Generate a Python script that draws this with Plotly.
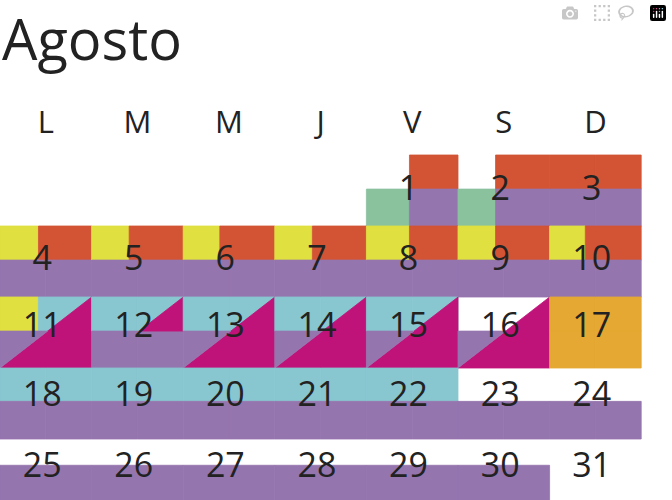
import plotly.graph_objects as go

# ---- data ----
title = "Agosto"
weekday_labels = ["L", "M", "M", "J", "V", "S", "D"]
days = list(range(1, 32))
first_weekday = 4  # August 1st is a Friday (V)

RED, PURPLE, GREEN = "#D35435", "#9575AE", "#8AC29E"
YELLOW, CYAN, MAGENTA = "#E0E040", "#88C6D0", "#C0137A"
ORANGE, WHITE = "#E5A832", "#FFFFFF"

top_left = ([WHITE, WHITE, RED] + [YELLOW] * 7 + [YELLOW] + [CYAN] * 4 + [WHITE, ORANGE]
            + [CYAN] * 5 + [WHITE] * 9)
top_right = ([RED] * 10 + [CYAN] * 5 + [WHITE, ORANGE] + [CYAN] * 5 + [WHITE] * 9)
bottom_left = [GREEN, GREEN] + [PURPLE] * 14 + [ORANGE] + [PURPLE] * 13 + [WHITE]
bottom_right = [PURPLE] * 16 + [ORANGE] + [PURPLE] * 13 + [WHITE]
split = {1: 0.47, 2: 0.41, 4: 0.42, 5: 0.41, 6: 0.40, 7: 0.41, 8: 0.47, 9: 0.41, 10: 0.39, 11: 0.42}
triangle_full = [11, 13, 14, 15, 16]
triangle_top = [12]
week_split = [0.48, 0.48, 0.48, 0.47, 0.37]
number_offset = [0.52, 0.5, 0.45, 0.42, 0.42]

fig = go.Figure()


def poly(xs, ys, color):
    fig.add_trace(go.Scatter(x=xs + [xs[0]], y=ys + [ys[0]], fill="toself", mode="lines",
                             line=dict(width=0.8, color=color), fillcolor=color,
                             hoverinfo="skip", showlegend=False))


def rect(x0, x1, y0, y1, color):
    if color != WHITE:
        poly([x0, x1, x1, x0], [y0, y0, y1, y1], color)


num_x, num_y = [], []
for i, d in enumerate(days):
    col = (d - 1 + first_weekday) % 7
    week = (d - 1 + first_weekday) // 7
    s = split.get(d, 0.5)
    ys = week + week_split[week]
    rect(col, col + s, week, ys, top_left[i])
    rect(col + s, col + 1, week, ys, top_right[i])
    bs = s if d in (1, 2) else 0.5
    if d in triangle_full:
        poly([col, col + 1, col + 1], [week + 1, week, week + 1], MAGENTA)
        # purple only left of the diagonal
        t = (week + 1 - ys)
        poly([col, col + t, col], [ys, ys, week + 1], bottom_left[i])
    elif week < 4:
        rect(col, col + bs, ys, week + 1, bottom_left[i])
        rect(col + bs, col + 1, ys, week + 1, bottom_right[i])
    else:
        rect(col, col + 1, ys, week + 1 - 0.02, bottom_left[i])
    if d in triangle_top:
        t = (week + 1 - ys)
        poly([col + t, col + 1, col + 1], [ys, week, ys], MAGENTA)
    num_x.append(col + 0.46)
    num_y.append(week + number_offset[week])

fig.add_trace(go.Scatter(x=num_x, y=num_y, mode="text", text=[str(d) for d in days],
                         textfont=dict(family="Open Sans", size=34, color="#222222"),
                         hoverinfo="skip", showlegend=False))
fig.add_trace(go.Scatter(x=[c + 0.5 for c in range(7)], y=[-0.42] * 7, mode="text",
                         text=weekday_labels,
                         textfont=dict(family="Open Sans", size=31, color="#222222"),
                         hoverinfo="skip", showlegend=False))

fig.add_annotation(text=title, xref="paper", yref="paper", x=0.0, y=1.005,
                   xanchor="left", yanchor="top", showarrow=False,
                   font=dict(family="Open Sans", size=56, color="#222222"))

fig.update_layout(
    width=672, height=500, margin=dict(l=0, r=0, t=0, b=0),
    plot_bgcolor="white", paper_bgcolor="white",
    xaxis=dict(range=[0, 672 / 91.6], visible=False, fixedrange=True),
    yaxis=dict(range=[(500 - 155) / 71, -155 / 71], visible=False, fixedrange=True),
)
fig.write_html("out.html", post_script="document.body.style.margin='0';")
